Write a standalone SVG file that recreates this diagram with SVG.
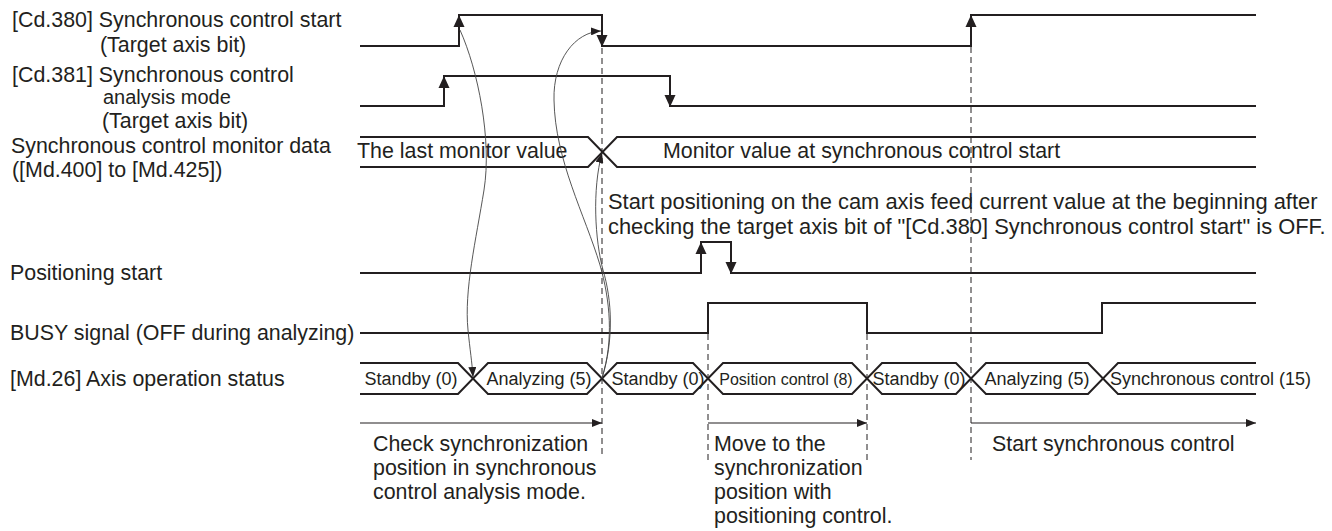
<svg xmlns="http://www.w3.org/2000/svg" width="1332" height="531" viewBox="0 0 1332 531">
<defs>
<style>
text{font-family:"Liberation Sans",Arial,sans-serif;fill:#231f20}
.t21{font-size:21.4px}
.t22{font-size:21.9px}
.t20{font-size:20px}
.t18{font-size:18px}
.t16{font-size:16px}
.sig{fill:none;stroke:#231f20;stroke-width:2}
.dash{fill:none;stroke:#231f20;stroke-width:1;stroke-dasharray:6 4}
.cur{fill:none;stroke:#444;stroke-width:0.9}
.hl{fill:none;stroke:#231f20;stroke-width:1.2}
.ah{fill:#231f20}
</style>
<path id="up" class="ah" d="M0 0 L-5.5 12 L5.5 12 Z"/>
<path id="dn" class="ah" d="M0 0 L-5.5 -12 L5.5 -12 Z"/>
<marker id="arr" viewBox="0 0 10 8" refX="10" refY="4" markerWidth="10" markerHeight="8" markerUnits="userSpaceOnUse" orient="auto"><path d="M0 0 L10 4 L0 8 Z" fill="#231f20"/></marker>
</defs>
<rect width="1332" height="531" fill="#fff"/>

<g id="cd380">
<text class="t21" x="12" y="27">[Cd.380] Synchronous control start</text>
<text class="t21" x="100" y="52">(Target axis bit)</text>
<path class="sig" d="M360 46 H459 V15 H602 V46 H971 V15 H1256"/>
<use href="#up" x="459" y="15"/>
<use href="#dn" x="602" y="47"/>
<use href="#up" x="971" y="15"/>
</g>

<g id="cd381">
<text class="t21" x="12" y="81.5">[Cd.381] Synchronous control</text>
<text class="t20" x="103" y="104.3">analysis mode</text>
<text class="t21" x="102" y="128">(Target axis bit)</text>
<path class="sig" d="M360 106 H444 V76 H670 V106 H1256"/>
<use href="#up" x="444" y="76"/>
<use href="#dn" x="670" y="107"/>
</g>

<g id="monitor">
<text class="t21" x="11" y="152.5">Synchronous control monitor data</text>
<text class="t21" x="12" y="177">([Md.400] to [Md.425])</text>
<path class="sig" d="M360 137 H588 L617 167 H1256"/>
<path class="sig" d="M360 167 H588 L617 137 H1256"/>
<text class="t21" x="357" y="158">The last monitor value</text>
<text class="t21" x="663" y="158">Monitor value at synchronous control start</text>
</g>

<g id="note">
<text class="t22" x="608" y="209">Start positioning on the cam axis feed current value at the beginning after</text>
<text class="t22" x="608" y="234">checking the target axis bit of "[Cd.380] Synchronous control start" is OFF.</text>
</g>

<g id="posstart">
<text class="t21" x="10" y="280">Positioning start</text>
<path class="sig" d="M360 273 H701 V242 H731 V273 H1256"/>
<use href="#up" x="701" y="242"/>
<use href="#dn" x="731" y="274"/>
</g>

<g id="busy">
<text class="t21" x="10" y="340">BUSY signal (OFF during analyzing)</text>
<path class="sig" d="M360 333 H708 V303 H867 V333 H1102 V303 H1256"/>
</g>

<g id="status">
<text class="t21" x="10" y="386">[Md.26] Axis operation status</text>
<path class="sig" d="M360 363 H458 L488 394 H587 L617 363 H693 L723 394 H852 L882 363 H956 L986 394 H1088 L1118 363 H1256"/>
<path class="sig" d="M360 394 H458 L488 363 H587 L617 394 H693 L723 363 H852 L882 394 H956 L986 363 H1088 L1118 394 H1256"/>
<text class="t18" x="411" y="385" text-anchor="middle">Standby (0)</text>
<text class="t18" x="539" y="385" text-anchor="middle">Analyzing (5)</text>
<text class="t18" x="658" y="385" text-anchor="middle">Standby (0)</text>
<text class="t16" x="786" y="385" text-anchor="middle">Position control (8)</text>
<text class="t18" x="919" y="385" text-anchor="middle">Standby (0)</text>
<text class="t18" x="1037" y="385" text-anchor="middle">Analyzing (5)</text>
<text class="t18" x="1110" y="385">Synchronous control (15)</text>
</g>

<g id="dashes">
<line class="dash" x1="602" y1="48" x2="602" y2="458"/>
<line class="dash" x1="708" y1="334" x2="708" y2="460"/>
<line class="dash" x1="867" y1="334" x2="867" y2="460"/>
<line class="dash" x1="971" y1="47" x2="971" y2="460"/>
</g>

<g id="phase1">
<line class="hl" x1="360" y1="423" x2="602" y2="423" marker-end="url(#arr)"/>
<text class="t21" x="373" y="451">Check synchronization</text>
<text class="t21" x="373" y="475">position in synchronous</text>
<text class="t21" x="373" y="499">control analysis mode.</text>
</g>

<g id="phase2">
<line class="hl" x1="708" y1="423" x2="867" y2="423" marker-end="url(#arr)"/>
<text class="t21" x="714" y="451">Move to the</text>
<text class="t21" x="714" y="475">synchronization</text>
<text class="t21" x="714" y="499">position with</text>
<text class="t21" x="714" y="523">positioning control.</text>
</g>

<g id="phase3">
<line class="hl" x1="971" y1="423" x2="1256" y2="423" marker-end="url(#arr)"/>
<text class="t21" x="992" y="451">Start synchronous control</text>
</g>

<g id="connectors">
<path class="cur" d="M460 30 C478 70 492 140 484 190 C476 240 464 290 468 330 C470 350 472 362 473 377" marker-end="url(#arr)"/>
<path class="cur" d="M602 378 C614 340 610 300 600 265 C585 215 555 160 554 100 C553 60 575 32 601 31" marker-end="url(#arr)"/>
<path class="cur" d="M602 378 C614 340 612 300 603 270 C595 240 592 190 602 153" marker-end="url(#arr)"/>
</g>
</svg>
